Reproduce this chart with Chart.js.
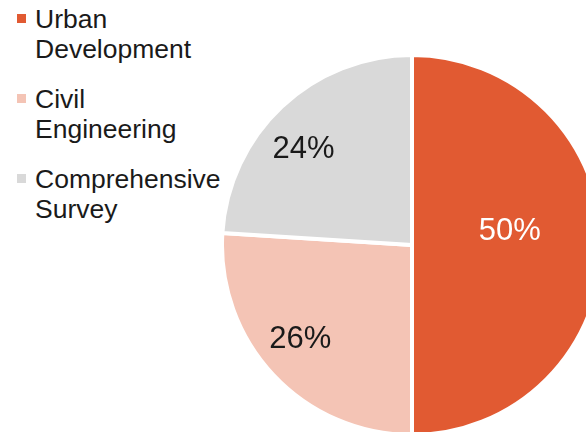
<!DOCTYPE html>
<html>
<head>
<meta charset="utf-8">
<script src="https://cdn.jsdelivr.net/npm/chart.js@4"></script>
<style>
  html, body { margin: 0; padding: 0; background: #fff; }
  #frame { position: relative; width: 586px; height: 432px; overflow: hidden; }
  #pie-box { position: absolute; left: 220px; top: 53px; width: 384px; height: 384px; }
  #legende { position: absolute; left: 17px; top: 4px; font-family: "Liberation Sans", Arial, sans-serif;
             font-size: 26.5px; line-height: 30px; color: #1a1a1a; }
  .item { position: relative; padding-left: 18px; margin-bottom: 20px; }
  .carre { position: absolute; left: 0; top: 10px; width: 9px; height: 9px; }
</style>
</head>
<body>
<div id="frame">
  <div id="legende"></div>
  <div id="pie-box"><canvas id="chart-parts"></canvas></div>
</div>
<script>
// --- Données ---
const categories = [['Urban', 'Development'], ['Civil', 'Engineering'], ['Comprehensive', 'Survey']];
const parts = [50, 26, 24];
const couleurs = ['#E15A32', '#F4C4B5', '#D9D9D9'];
const couleursTexte = ['#ffffff', '#1a1a1a', '#1a1a1a'];

// placement des étiquettes : fraction du rayon + petit décalage d'angle (degrés)
const labelRayon = [0.52, 0.77, 0.76];
const labelDecalage = [-8, 3, -5.5];

// --- Légende HTML (deux lignes par catégorie) ---
function afficherLegende() {
  let div = document.getElementById('legende');
  div.innerHTML = '';
  categories.forEach((lignes, i) => {
    let item = document.createElement('div');
    item.className = 'item';
    item.innerHTML = '<span class="carre" style="background:' + couleurs[i] + '"></span>' + lignes.join('<br>');
    div.appendChild(item);
  });
}
afficherLegende();

// --- Pourcentages dans les parts ---
const etiquettesParts = {
  id: 'etiquettesParts',
  afterDatasetsDraw(chart) {
    const ctx = chart.ctx;
    const meta = chart.getDatasetMeta(0);
    ctx.save();
    ctx.font = '31px "Liberation Sans", Arial, sans-serif';
    ctx.textAlign = 'center';
    ctx.textBaseline = 'middle';
    meta.data.forEach((arc, i) => {
      const a = (arc.startAngle + arc.endAngle) / 2 + labelDecalage[i] * Math.PI / 180;
      const r = arc.outerRadius * labelRayon[i];
      ctx.fillStyle = couleursTexte[i];
      ctx.fillText(parts[i] + '%', arc.x + Math.cos(a) * r, arc.y + Math.sin(a) * r);
    });
    ctx.restore();
  }
};

const ctx = document.getElementById('chart-parts').getContext('2d');
new Chart(ctx, {
  type: 'pie',
  data: {
    labels: categories.map(l => l.join(' ')),
    datasets: [{
      data: parts,
      backgroundColor: couleurs,
      borderColor: '#ffffff',
      borderWidth: 4
    }]
  },
  options: {
    responsive: true,
    maintainAspectRatio: false,
    animation: false,
    layout: { padding: 0 },
    plugins: {
      legend: { display: false },
      tooltip: { enabled: false }
    }
  },
  plugins: [etiquettesParts]
});
</script>
</body>
</html>
